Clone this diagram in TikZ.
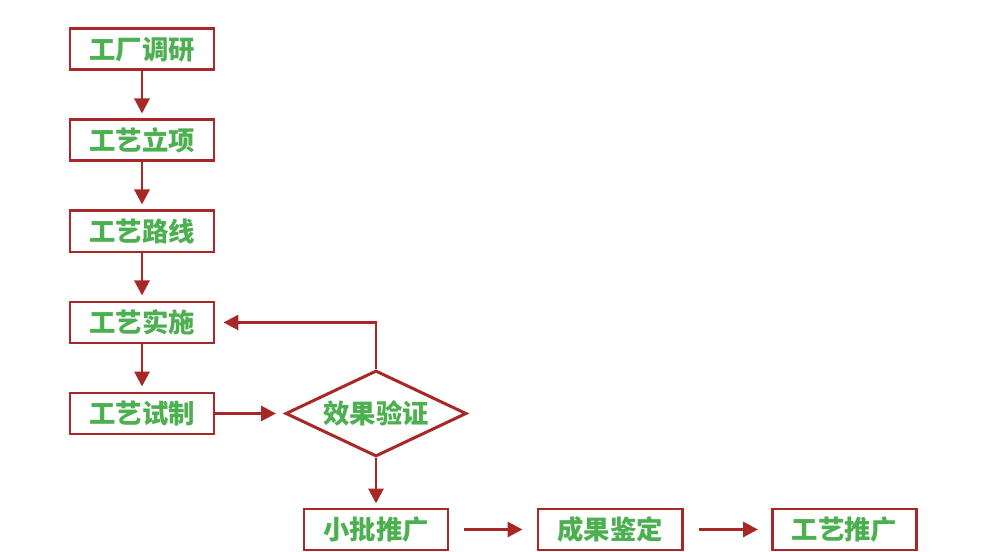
\documentclass[tikz,border=0pt]{standalone}
\usepackage{fontspec}
\usepackage{tikz}
\usetikzlibrary{arrows.meta, positioning, shapes.geometric}
\newfontfamily\cjk{Noto Sans CJK SC}
\definecolor{flowred}{HTML}{A82828}
\definecolor{flowgreen}{HTML}{4CAF50}

\begin{document}
\begin{tikzpicture}[
    stepbox/.style={draw=flowred, line width=1.7pt, fill=white, minimum width=2.88cm,
        minimum height=0.82cm, inner sep=0pt, font=\cjk\bfseries\fontsize{15}{18}\selectfont,
        text=flowgreen},
    checkbox/.style={stepbox, diamond, aspect=2.1, minimum width=3.62cm, minimum height=1.72cm},
    flow/.style={-{Triangle[length=0.3cm, width=0.3cm]}, line width=1.7pt, draw=flowred}
  ]
  % Canvas
  \useasboundingbox[fill=white] (0,0) rectangle (20,-11.04);

  % Main column
  \node[stepbox] (survey) at (2.84, -0.99) {工厂调研};
  \node[stepbox] (setup)  at (2.84, -2.81) {工艺立项};
  \node[stepbox] (route)  at (2.84, -4.63) {工艺路线};
  \node[stepbox] (impl)   at (2.84, -6.45) {工艺实施};
  \node[stepbox] (trial)  at (2.84, -8.27) {工艺试制};

  % Check
  \node[checkbox] (verify) at (7.52, -8.27) {效果验证};

  % Bottom row
  \node[stepbox] (batch)   at (7.52, -10.59)  {小批推广};
  \node[stepbox] (appr)    at (12.20, -10.59) {成果鉴定};
  \node[stepbox] (promote) at (16.89, -10.59) {工艺推广};

  % Arrows
  \draw[flow, shorten >=0.1cm] (survey) -- (setup);
  \draw[flow, shorten >=0.1cm] (setup) -- (route);
  \draw[flow, shorten >=0.1cm] (route) -- (impl);
  \draw[flow, shorten >=0.1cm] (impl) -- (trial);
  \draw[flow, shorten >=0.16cm] (trial) -- (verify);
  \draw[flow, shorten >=0.16cm] (verify.north) |- (impl.east);
  \draw[flow, shorten >=0.08cm] (verify) -- (batch);
  \draw[flow, shorten <=0.3cm, shorten >=0.28cm] (batch) -- (appr);
  \draw[flow, shorten <=0.3cm, shorten >=0.26cm] (appr) -- (promote);
\end{tikzpicture}
\end{document}
